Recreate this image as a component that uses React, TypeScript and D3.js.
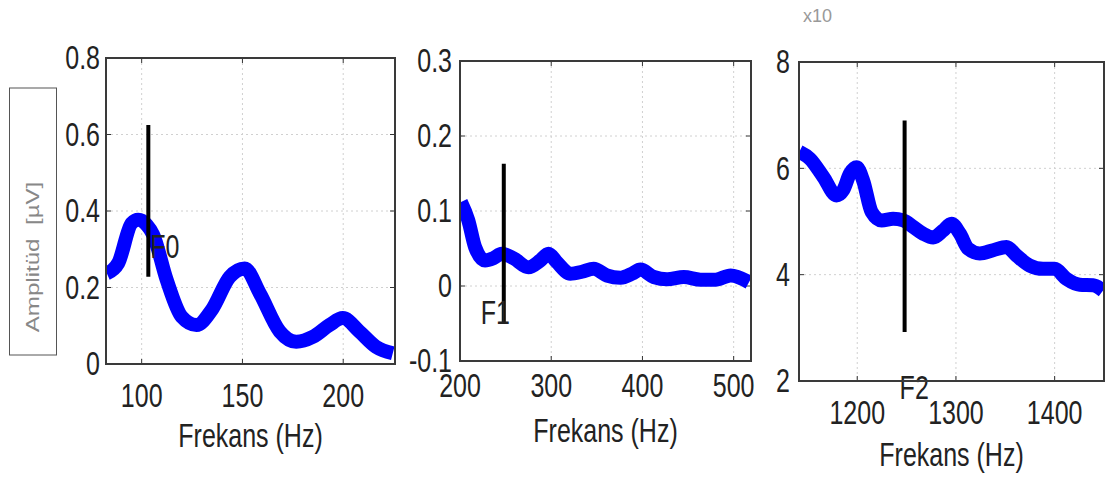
import React from 'react';
import * as d3 from 'd3';

// F0 panel
const f0Hz = [82.7, 88.4, 95, 98.3, 102.5, 105.7, 112.4, 119.8, 127.2, 134.7, 143.7, 151.1, 158.6, 168.5, 176.7, 185, 193.2, 199.8, 208, 216.3, 224.6];
const f0Amp = [0.237, 0.264, 0.368, 0.377, 0.364, 0.338, 0.22, 0.124, 0.102, 0.141, 0.228, 0.25, 0.185, 0.085, 0.058, 0.071, 0.102, 0.12, 0.085, 0.045, 0.028];
// F1 panel
const f1Hz = [201, 209, 216.5, 227.5, 236.6, 245.8, 258.6, 275, 288, 297, 306, 321, 333.7, 346.5, 361, 376, 388.7, 397.8, 412.4, 427, 445.4, 463.8, 480, 496.7, 516.8];
const f1Amp = [0.112, 0.088, 0.052, 0.034, 0.037, 0.043, 0.037, 0.025, 0.034, 0.043, 0.032, 0.0165, 0.019, 0.023, 0.014, 0.011, 0.0165, 0.022, 0.012, 0.009, 0.012, 0.0085, 0.0085, 0.014, 0.005];
// F2 panel
const f2Hz = [1141.3, 1152, 1165.6, 1179, 1185.8, 1192.6, 1199.4, 1206, 1214.6, 1224.7, 1236.4, 1246.6, 1256.7, 1266.8, 1277, 1287, 1295.5, 1304, 1312.3, 1324.2, 1337.7, 1351.2, 1361.3, 1374.8, 1388.3, 1400, 1412, 1425.4, 1438.9, 1449];
const f2Amp = [6.31, 6.18, 5.84, 5.49, 5.59, 5.9, 6.02, 5.77, 5.18, 5.02, 5.05, 5.02, 4.9, 4.77, 4.7, 4.83, 4.96, 4.77, 4.49, 4.4, 4.46, 4.52, 4.36, 4.17, 4.11, 4.11, 3.92, 3.81, 3.8, 3.7];

const f0XTicks = [100, 150, 200];
const f0YTicks = [0, 0.2, 0.4, 0.6, 0.8];
const f1XTicks = [200, 300, 400, 500];
const f1YTicks = [-0.1, 0, 0.1, 0.2, 0.3];
const f2XTicks = [1200, 1300, 1400];
const f2YTicks = [2, 4, 6, 8];

const markerNames = ['F0', 'F1', 'F2'];
const markerHz = [103.3, 248, 1248];
const markerLow = [0.228, -0.05, 2.92];
const markerHigh = [0.625, 0.163, 6.9];

const FONT = '"Liberation Sans", Arial, sans-serif';
const SY = 1.3; // picture is stretched vertically

const panels = [
  { id: 0, hz: f0Hz, amp: f0Amp, xd: [82.3, 225.7], yd: [0, 0.8], xt: f0XTicks, yt: f0YTicks,
    box: { l: 106, r: 395, t: 58, b: 364 }, yLabX: 100, xLabY: 407, titleY: 447,
    lab: { dx: 2, v: 0.277 } },
  { id: 1, hz: f1Hz, amp: f1Amp, xd: [200, 519], yd: [-0.1, 0.3], xt: f1XTicks, yt: f1YTicks,
    box: { l: 460, r: 751, t: 61, b: 361 }, yLabX: 452, xLabY: 397, titleY: 442,
    lab: { dx: -23, v: -0.05 } },
  { id: 2, hz: f2Hz, amp: f2Amp, xd: [1141, 1450], yd: [2, 8], xt: f2XTicks, yt: f2YTicks,
    box: { l: 799, r: 1104, t: 62, b: 381 }, yLabX: 790, xLabY: 424, titleY: 466,
    lab: { dx: -5, v: 1.67 } },
];

function Txt({ x, y, anchor = 'start', dy = '0', size = 25, children }: any) {
  return (
    <text transform={`translate(${x},${y}) scale(1,${SY})`} textAnchor={anchor} dy={dy}
      fontFamily={FONT} fontSize={size} fill="#222">{children}</text>
  );
}

function Panel({ p }: any) {
  const { box } = p;
  const x = d3.scaleLinear().domain(p.xd).range([box.l, box.r]);
  const y = d3.scaleLinear().domain(p.yd).range([box.b, box.t]);
  const pts = p.hz.map((h: number, i: number) => [h, p.amp[i]]);
  const line = d3.line<number[]>().x(d => x(d[0])).y(d => y(d[1])).curve(d3.curveMonotoneX);
  const mx = x(markerHz[p.id]);
  const clip = `clip${p.id}`;
  return (
    <g>
      <defs>
        <clipPath id={clip}><rect x={box.l} y={box.t} width={box.r - box.l} height={box.b - box.t} /></clipPath>
      </defs>
      <rect x={box.l} y={box.t} width={box.r - box.l} height={box.b - box.t} fill="#fff" />
      {p.xt.map((t: number) => (
        <g key={'gx' + t}>
          <line x1={x(t)} x2={x(t)} y1={box.t} y2={box.b} stroke="#d0d0d0" strokeDasharray="2,3" />
          <line x1={x(t)} x2={x(t)} y1={box.b} y2={box.b - 5} stroke="#333" />
          <line x1={x(t)} x2={x(t)} y1={box.t} y2={box.t + 5} stroke="#333" />
        </g>
      ))}
      {p.yt.map((t: number) => (
        <g key={'gy' + t}>
          <line x1={box.l} x2={box.r} y1={y(t)} y2={y(t)} stroke="#d0d0d0" strokeDasharray="2,3" />
          <line x1={box.l} x2={box.l + 5} y1={y(t)} y2={y(t)} stroke="#333" />
          <line x1={box.r} x2={box.r - 5} y1={y(t)} y2={y(t)} stroke="#333" />
        </g>
      ))}
      <path d={line(pts) || ''} fill="none" stroke="#0000ff" strokeWidth={14}
        strokeLinejoin="round" clipPath={`url(#${clip})`} />
      <line x1={mx} x2={mx} y1={y(markerLow[p.id])} y2={y(markerHigh[p.id])} stroke="#000" strokeWidth={4} />
      <Txt x={mx + p.lab.dx} y={y(p.lab.v)}>{markerNames[p.id]}</Txt>
      <rect x={box.l} y={box.t} width={box.r - box.l} height={box.b - box.t} fill="none" stroke="#3a3a3a" strokeWidth={2} />
      {p.yt.map((t: number) => (
        <Txt key={'ly' + t} x={p.yLabX} y={y(t)} anchor="end" dy="0.35em">{String(t)}</Txt>
      ))}
      {p.xt.map((t: number) => (
        <Txt key={'lx' + t} x={x(t)} y={p.xLabY} anchor="middle">{String(t)}</Txt>
      ))}
      <Txt x={(box.l + box.r) / 2} y={p.titleY} anchor="middle">Frekans (Hz)</Txt>
    </g>
  );
}

export default function App() {
  return (
    <svg width={1109} height={486} style={{ position: 'absolute', left: 0, top: 0, background: '#fff' }}>
      <rect width={1109} height={486} fill="#fff" />
      <rect x={9.5} y={88} width={47} height={267} fill="#fff" stroke="#555" strokeWidth={1} />
      <text transform="translate(39,257) rotate(-90) scale(1.27,1)" textAnchor="middle"
        fontFamily={FONT} fontSize={19} fill="#888" style={{ whiteSpace: 'pre' }}>Amplitüd  [µV]</text>
      <text x={803} y={22} fontFamily={FONT} fontSize={18} fill="#999">x10</text>
      {panels.map(p => <Panel key={p.id} p={p} />)}
    </svg>
  );
}
